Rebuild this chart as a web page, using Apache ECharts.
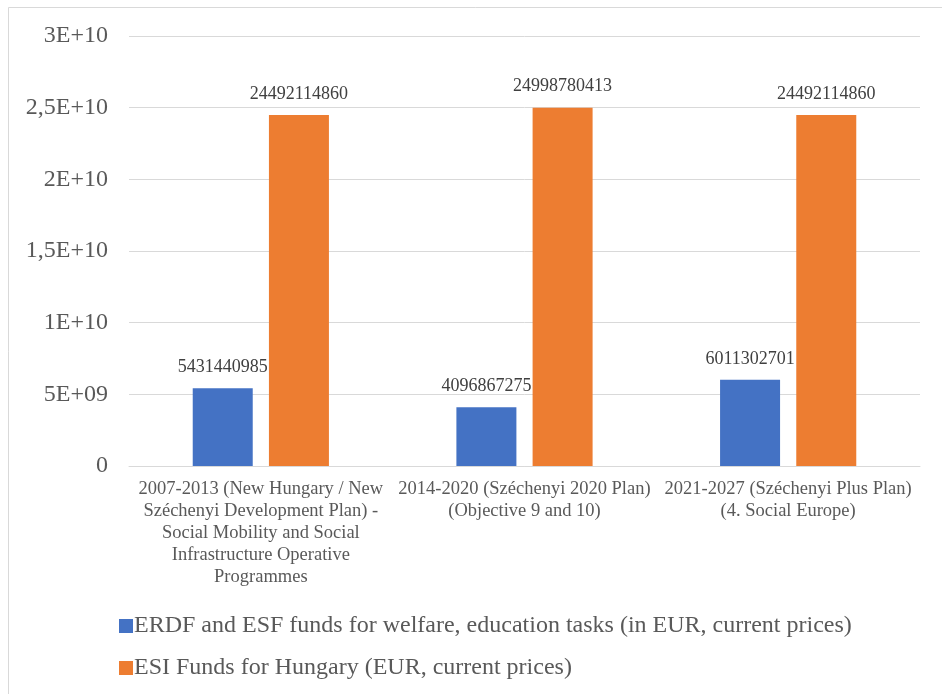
<!DOCTYPE html>
<html>
<head>
<meta charset="utf-8">
<script src="https://cdn.jsdelivr.net/npm/echarts@6/dist/echarts.min.js"></script>
<style>
html,body{margin:0;padding:0;background:#fff;}
#chart{width:942px;height:694px;}
</style>
</head>
<body>
<div id="chart"></div>
<script>
var categories = [
  "2007-2013 (New Hungary / New\nSzéchenyi Development Plan) -\nSocial Mobility and Social\nInfrastructure Operative\nProgrammes",
  "2014-2020 (Széchenyi 2020 Plan)\n(Objective 9 and 10)",
  "2021-2027 (Széchenyi Plus Plan)\n(4. Social Europe)"
];
var seriesNames = [
  "ERDF and ESF funds for welfare, education tasks (in EUR, current prices)",
  "ESI Funds for Hungary (EUR, current prices)"
];
var erdfEsf = [5431440985, 4096867275, 6011302701];
var esiFunds = [24492114860, 24998780413, 24492114860];
var yTickLabels = ["0", "5E+09", "1E+10", "1,5E+10", "2E+10", "2,5E+10", "3E+10"];
var yMin = 0, yMax = 30000000000, yInterval = 5000000000;

var FONT = "Liberation Serif";
var TXT = "#595959";
var chart = echarts.init(document.getElementById('chart'), null, {renderer: 'canvas'});
chart.setOption({
  backgroundColor: '#ffffff',
  animation: false,
  textStyle: {fontFamily: FONT},
  graphic: [{
    type: 'rect', silent: true,
    shape: {x: 8.5, y: 7.5, width: 1000, height: 1000},
    style: {fill: 'none', stroke: '#D9D9D9', lineWidth: 1}
  }],
  grid: {left: 129, right: 22, top: 36, bottom: 228, containLabel: false},
  legend: {
    orient: 'vertical', left: 114, top: 609,
    itemWidth: 14, itemHeight: 14, itemGap: 18,
    icon: 'rect',
    textStyle: {fontFamily: FONT, fontSize: 24, color: TXT, padding: [0,0,0,-4]},
    data: seriesNames
  },
  xAxis: {
    type: 'category', data: categories,
    axisLine: {show: true, lineStyle: {color: '#D9D9D9', width: 1}},
    axisTick: {show: false},
    axisLabel: {interval: 0, fontFamily: FONT, fontSize: 18.5, color: TXT, lineHeight: 22, margin: 12}
  },
  yAxis: {
    type: 'value', min: yMin, max: yMax, interval: yInterval,
    axisLine: {show: false}, axisTick: {show: false},
    splitLine: {lineStyle: {color: '#D9D9D9', width: 1}},
    axisLabel: {
      fontFamily: FONT, fontSize: 24, color: TXT, margin: 21,
      formatter: function (v) { return yTickLabels[Math.round((v - yMin) / yInterval)]; }
    }
  },
  series: [
    {
      name: seriesNames[0], type: 'bar', data: erdfEsf,
      barWidth: 60, barGap: '27%',
      itemStyle: {color: '#4472C4'},
      label: {show: true, position: 'top', distance: 12, fontFamily: FONT, fontSize: 18, color: '#404040'}
    },
    {
      name: seriesNames[1], type: 'bar', data: esiFunds,
      barWidth: 60, barGap: '27%',
      itemStyle: {color: '#ED7D31'},
      label: {show: true, position: 'top', distance: 12, fontFamily: FONT, fontSize: 18, color: '#404040'}
    }
  ]
});
</script>
</body>
</html>
